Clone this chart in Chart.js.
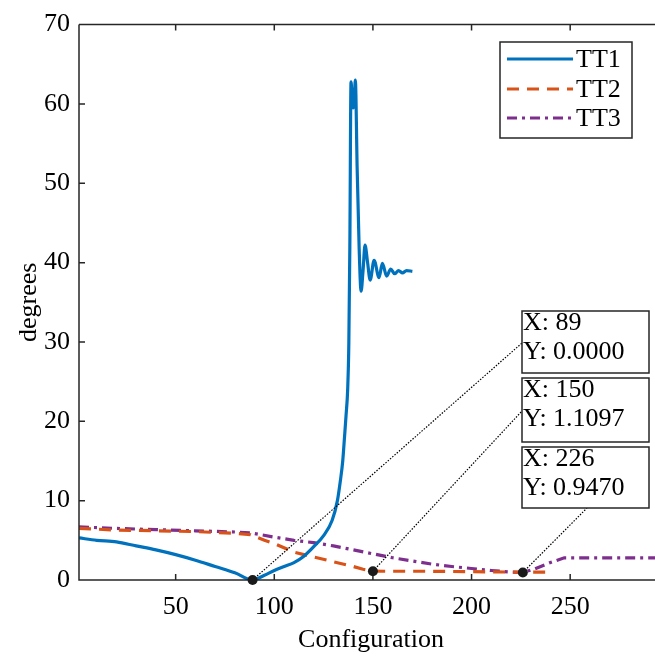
<!DOCTYPE html>
<html>
<head>
<meta charset="utf-8">
<script src="https://cdn.jsdelivr.net/npm/chart.js@4"></script>
<style>
  html, body { margin: 0; padding: 0; background: #fff; }
</style>
</head>
<body>
<canvas id="chart" width="655" height="657"></canvas>
<script>
// data
const tt1X = [1, 10, 20, 30, 40, 50, 60, 70, 80, 89, 95, 100, 105, 110, 115, 120, 125, 129.3, 132, 133.5, 134.7, 135.6, 136.4, 137.2, 137.8, 138.3, 138.9, 139.5, 140, 140.6, 141.1, 142, 143, 144, 145, 146, 147.3, 148.6, 150.6, 153.1, 154.8, 157, 159, 161, 163, 165, 167, 170];
const tt1Y = [5.3, 5.0, 4.8, 4.3, 3.8, 3.2, 2.5, 1.7, 0.9, 0, 0.6, 1.2, 1.7, 2.2, 3.0, 4.2, 5.6, 7.5, 10, 12.5, 15, 18, 20.8, 24, 30, 42, 62.8, 60.5, 59.5, 61, 63, 52, 42, 36.4, 39, 42.2, 40, 37.8, 40.3, 38.1, 39.9, 38.3, 39.2, 38.6, 39.0, 38.7, 39.0, 38.9];

const tt2X = [1, 20, 40, 60, 80, 88, 95, 100, 110, 120, 130, 140, 145, 150, 160, 180, 200, 220, 230, 240];
const tt2Y = [6.5, 6.3, 6.2, 6.1, 5.9, 5.7, 5.0, 4.6, 3.5, 2.9, 2.3, 1.7, 1.35, 1.11, 1.1, 1.1, 1.05, 1.0, 1.0, 1.0];

const tt3X = [1, 20, 40, 60, 80, 88, 100, 110, 120, 130, 140, 150, 160, 170, 180, 190, 200, 210, 220, 226, 232, 240, 247, 260, 280, 300];
const tt3Y = [6.7, 6.5, 6.35, 6.2, 6.05, 5.95, 5.4, 5.0, 4.7, 4.3, 3.8, 3.3, 2.8, 2.4, 2.0, 1.7, 1.45, 1.2, 1.0, 0.947, 1.4, 2.2, 2.8, 2.8, 2.8, 2.8];

// data tips
const tipX = [89, 150, 226];
const tipY = [0, 1.1097, 0.947];
const tipText = [['X: 89', 'Y: 0.0000'], ['X: 150', 'Y: 1.1097'], ['X: 226', 'Y: 0.9470']];

const xTicks = [50, 100, 150, 200, 250];
const yTicks = [0, 10, 20, 30, 40, 50, 60, 70];

const pts = (xs, ys) => xs.map((x, i) => ({ x: x, y: ys[i] }));
const FONT = '"Liberation Serif", "Times New Roman", serif';
const FSIZE = 26;
const AXIS = '#262626';

// box positions for the data tips (pixels) and where the dotted line meets them
const tipBoxes = [
    { l: 522, t: 311, r: 649, b: 373, ax: 522, ay: 343 },
    { l: 522, t: 378, r: 649, b: 442, ax: 522, ay: 411 },
    { l: 522, t: 447, r: 649, b: 508, ax: 587, ay: 508 }
];

const framePlugin = {
    id: 'frame',
    afterDatasetsDraw(chart) {
        const { ctx, chartArea: a, scales } = chart;
        ctx.save();
        ctx.strokeStyle = AXIS;
        ctx.lineWidth = 1.5;
        ctx.beginPath();
        ctx.moveTo(a.left, a.top); ctx.lineTo(a.left, a.bottom); ctx.lineTo(a.right, a.bottom);
        ctx.moveTo(a.left, a.top); ctx.lineTo(a.right, a.top);
        // inward ticks
        xTicks.forEach(v => {
            const px = scales.x.getPixelForValue(v);
            ctx.moveTo(px, a.bottom); ctx.lineTo(px, a.bottom - 6);
            ctx.moveTo(px, a.top); ctx.lineTo(px, a.top + 6);
        });
        yTicks.forEach(v => {
            const py = scales.y.getPixelForValue(v);
            ctx.moveTo(a.left, py); ctx.lineTo(a.left + 6, py);
        });
        ctx.stroke();

        // axis titles
        ctx.fillStyle = '#000';
        ctx.font = FSIZE + 'px ' + FONT;
        ctx.textAlign = 'center';
        ctx.textBaseline = 'alphabetic';
        ctx.fillText('Configuration', (a.left + a.right) / 2 + 4, 647);
        ctx.translate(36, (a.top + a.bottom) / 2);
        ctx.rotate(-Math.PI / 2);
        ctx.fillText('degrees', 0, 0);
        ctx.restore();

        // data tips: dotted leaders, boxes, text
        ctx.save();
        tipX.forEach((v, i) => {
            const px = scales.x.getPixelForValue(v);
            const py = scales.y.getPixelForValue(tipY[i]);
            const b = tipBoxes[i];
            ctx.strokeStyle = '#000';
            ctx.lineWidth = 1.2;
            ctx.setLineDash([1.5, 1.5]);
            ctx.beginPath(); ctx.moveTo(px, py); ctx.lineTo(b.ax, b.ay); ctx.stroke();
            ctx.setLineDash([]);
            ctx.fillStyle = '#fff';
            ctx.fillRect(b.l, b.t, b.r - b.l, b.b - b.t);
            ctx.strokeStyle = '#262626';
            ctx.lineWidth = 1.5;
            ctx.strokeRect(b.l, b.t, b.r - b.l, b.b - b.t);
            ctx.fillStyle = '#000';
            ctx.font = FSIZE + 'px ' + FONT;
            ctx.textAlign = 'left';
            ctx.fillText(tipText[i][0], b.l + 1, b.t + 19);
            ctx.fillText(tipText[i][1], b.l + 1, b.t + 48);
        });
        // markers on top
        tipX.forEach((v, i) => {
            ctx.fillStyle = '#1a1a1a';
            ctx.beginPath();
            ctx.arc(scales.x.getPixelForValue(v), scales.y.getPixelForValue(tipY[i]), 5, 0, Math.PI * 2);
            ctx.fill();
        });

        // legend
        const L = { l: 500, t: 42, r: 632, b: 138 };
        ctx.fillStyle = '#fff';
        ctx.fillRect(L.l, L.t, L.r - L.l, L.b - L.t);
        ctx.strokeStyle = '#262626';
        ctx.lineWidth = 1.5;
        ctx.strokeRect(L.l, L.t, L.r - L.l, L.b - L.t);
        const rows = [59, 89, 118];
        chart.data.datasets.slice(0, 3).forEach((ds, i) => {
            ctx.strokeStyle = ds.borderColor;
            ctx.lineWidth = ds.borderWidth;
            ctx.setLineDash(ds.borderDash || []);
            ctx.beginPath(); ctx.moveTo(507, rows[i]); ctx.lineTo(573, rows[i]); ctx.stroke();
            ctx.setLineDash([]);
            ctx.fillStyle = '#000';
            ctx.fillText(ds.label, 576, rows[i] + 8);
        });
        ctx.restore();
    }
};

new Chart(document.getElementById('chart'), {
    type: 'scatter',
    data: {
        datasets: [
            { label: 'TT1', data: pts(tt1X, tt1Y), showLine: true, borderColor: '#0072BD', borderWidth: 3.2, pointRadius: 0, cubicInterpolationMode: 'monotone' },
            { label: 'TT2', data: pts(tt2X, tt2Y), showLine: true, borderColor: '#D95319', borderWidth: 3.2, borderDash: [12, 8], pointRadius: 0 },
            { label: 'TT3', data: pts(tt3X, tt3Y), showLine: true, borderColor: '#7E2F8E', borderWidth: 3.2, borderDash: [10, 5, 3, 5], pointRadius: 0 }
        ]
    },
    options: {
        responsive: false,
        animation: false,
        layout: { padding: { top: 19, right: 0, left: 0, bottom: 0 } },
        plugins: { legend: { display: false }, tooltip: { enabled: false } },
        scales: {
            x: {
                type: 'linear', min: 1, max: 293,
                grid: { display: false, drawTicks: false },
                border: { display: false },
                afterBuildTicks: s => { s.ticks = xTicks.map(v => ({ value: v })); },
                afterFit: s => { s.height = 77; },
                ticks: { color: '#000', font: { family: FONT, size: FSIZE }, padding: 12, maxRotation: 0 }
            },
            y: {
                type: 'linear', min: 0, max: 70,
                grid: { display: false, drawTicks: false },
                border: { display: false },
                afterBuildTicks: s => { s.ticks = yTicks.map(v => ({ value: v })); },
                afterFit: s => { s.width = 79; },
                ticks: { color: '#000', font: { family: FONT, size: FSIZE }, padding: 9 }
            }
        }
    },
    plugins: [framePlugin]
});
</script>
</body>
</html>
